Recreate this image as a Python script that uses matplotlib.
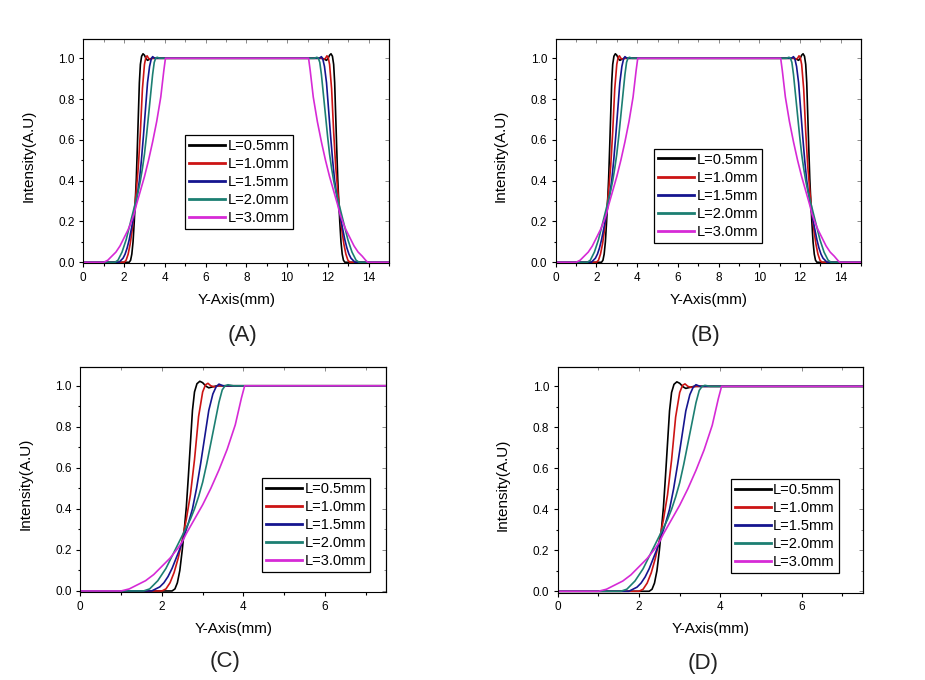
import numpy as np
import matplotlib
matplotlib.use("Agg")
import matplotlib.pyplot as plt
from matplotlib.ticker import MultipleLocator, FormatStrFormatter

plt.rcParams['font.family'] = ['Liberation Sans', 'DejaVu Sans']

# Beam profiles (intensity vs Y position) for each propagation length L
labels = ["L=0.5mm", "L=1.0mm", "L=1.5mm", "L=2.0mm", "L=3.0mm"]
colors = ["#000000", "#cc1414", "#15158f", "#1c7f72", "#d62ad6"]

# rising edge
rise_x_05 = [0, 2.25, 2.32, 2.38, 2.44, 2.5, 2.55, 2.6, 2.65, 2.7, 2.75, 2.8, 2.86, 2.93, 3.0, 3.08, 3.15, 3.25, 3.35]
rise_y_05 = [0, 0, 0.01, 0.04, 0.1, 0.2, 0.3, 0.41, 0.56, 0.72, 0.88, 0.97, 1.01, 1.022, 1.015, 0.998, 0.99, 0.995, 1.0]
rise_x_10 = [0, 2.0, 2.1, 2.2, 2.3, 2.4, 2.5, 2.6, 2.7, 2.8, 2.9, 3.0, 3.07, 3.13, 3.2, 3.28, 3.4]
rise_y_10 = [0, 0, 0.01, 0.04, 0.09, 0.16, 0.25, 0.35, 0.47, 0.64, 0.85, 0.97, 1.005, 1.012, 1.0, 0.995, 1.0]
rise_x_15 = [0, 1.75, 1.85, 1.95, 2.05, 2.15, 2.25, 2.35, 2.45, 2.55, 2.65, 2.75, 2.85, 2.95, 3.05, 3.15, 3.25, 3.33, 3.4, 3.5]
rise_y_15 = [0, 0, 0.01, 0.02, 0.04, 0.07, 0.11, 0.16, 0.21, 0.27, 0.33, 0.4, 0.5, 0.62, 0.75, 0.88, 0.96, 0.995, 1.008, 1.0]
rise_x_20 = [0, 1.55, 1.7, 1.8, 1.9, 2.0, 2.1, 2.2, 2.3, 2.4, 2.5, 2.6, 2.7, 2.8, 2.9, 3.0, 3.1, 3.2, 3.3, 3.4, 3.48, 3.55, 3.62, 3.75]
rise_y_20 = [0, 0, 0.01, 0.03, 0.05, 0.08, 0.11, 0.15, 0.19, 0.23, 0.27, 0.31, 0.35, 0.4, 0.46, 0.53, 0.62, 0.72, 0.82, 0.92, 0.98, 1.0, 1.005, 1.0]
rise_x_30 = [0, 1.0, 1.2, 1.4, 1.6, 1.8, 2.0, 2.2, 2.4, 2.5, 2.6, 2.8, 3.0, 3.2, 3.4, 3.6, 3.8, 3.95, 4.03, 4.2]
rise_y_30 = [0, 0, 0.01, 0.03, 0.05, 0.08, 0.12, 0.16, 0.21, 0.24, 0.28, 0.35, 0.42, 0.5, 0.59, 0.69, 0.81, 0.94, 1.0, 1.0]

# falling edge
fall_x_05 = [11.73, 11.83, 11.93, 12.0, 12.08, 12.15, 12.22, 12.28, 12.33, 12.38, 12.43, 12.48, 12.53, 12.58, 12.64, 12.7, 12.76, 12.83, 15.0]
fall_y_05 = [1.0, 0.995, 0.99, 0.998, 1.015, 1.022, 1.01, 0.97, 0.88, 0.72, 0.56, 0.41, 0.3, 0.2, 0.1, 0.04, 0.01, 0, 0]
fall_x_10 = [11.68, 11.8, 11.88, 11.95, 12.01, 12.08, 12.18, 12.28, 12.38, 12.48, 12.58, 12.68, 12.78, 12.88, 12.98, 13.08, 15.0]
fall_y_10 = [1.0, 0.995, 1.0, 1.012, 1.005, 0.97, 0.85, 0.64, 0.47, 0.35, 0.25, 0.16, 0.09, 0.04, 0.01, 0, 0]
fall_x_15 = [11.58, 11.68, 11.75, 11.83, 11.93, 12.03, 12.13, 12.23, 12.33, 12.43, 12.53, 12.63, 12.73, 12.83, 12.93, 13.03, 13.13, 13.23, 13.33, 15.0]
fall_y_15 = [1.0, 1.008, 0.995, 0.96, 0.88, 0.75, 0.62, 0.5, 0.4, 0.33, 0.27, 0.21, 0.16, 0.11, 0.07, 0.04, 0.02, 0.01, 0, 0]
fall_x_20 = [11.33, 11.46, 11.53, 11.6, 11.68, 11.78, 11.88, 11.98, 12.08, 12.18, 12.28, 12.38, 12.48, 12.58, 12.68, 12.78, 12.88, 12.98, 13.08, 13.18, 13.28, 13.38, 13.53, 15.0]
fall_y_20 = [1.0, 1.005, 1.0, 0.98, 0.92, 0.82, 0.72, 0.62, 0.53, 0.46, 0.4, 0.35, 0.31, 0.27, 0.23, 0.19, 0.15, 0.11, 0.08, 0.05, 0.03, 0.01, 0, 0]
fall_x_30 = [10.88, 11.05, 11.13, 11.28, 11.48, 11.68, 11.88, 12.08, 12.28, 12.48, 12.58, 12.68, 12.88, 13.08, 13.28, 13.48, 13.68, 13.85, 13.95, 15.0]
fall_y_30 = [1.0, 1.0, 0.94, 0.81, 0.69, 0.59, 0.5, 0.42, 0.35, 0.28, 0.24, 0.21, 0.16, 0.12, 0.08, 0.05, 0.03, 0.01, 0, 0]

profiles = [
    (rise_x_05 + fall_x_05, rise_y_05 + fall_y_05),
    (rise_x_10 + fall_x_10, rise_y_10 + fall_y_10),
    (rise_x_15 + fall_x_15, rise_y_15 + fall_y_15),
    (rise_x_20 + fall_x_20, rise_y_20 + fall_y_20),
    (rise_x_30 + fall_x_30, rise_y_30 + fall_y_30),
]

W, H = 925, 680
fig = plt.figure(figsize=(W / 100, H / 100), dpi=100)

# panel layout in pixels: left, top, right, bottom, x max, legend corner (axes fraction), panel label pos
panels = [
    ("(A)", (83.3, 39.3, 389.1, 263.5), 15, (0.333, 0.573), (243, 335)),
    ("(B)", (555.7, 39.3, 861.1, 263.5), 15, (0.322, 0.511), (706, 335)),
    ("(C)", (80.3, 366.7, 386.2, 592.2), 7.5, (0.594, 0.506), (225, 662)),
    ("(D)", (557.7, 367.3, 862.7, 592.5), 7.5, (0.568, 0.504), (703, 663)),
]

for name, (l, t, r, b), xmax, leg_pos, lab_pos in panels:
    ax = fig.add_axes([l / W, 1 - b / H, (r - l) / W, (b - t) / H])
    for (x, y), c, lab in zip(profiles, colors, labels):
        ax.plot(x, y, color=c, lw=1.2, label=lab)
    ax.set_xlim(0, xmax)
    ax.set_ylim(-0.006, 1.093)

    ax.xaxis.set_major_locator(MultipleLocator(2))
    ax.xaxis.set_minor_locator(MultipleLocator(1))
    ax.yaxis.set_major_locator(MultipleLocator(0.2))
    ax.yaxis.set_minor_locator(MultipleLocator(0.1))
    ax.yaxis.set_major_formatter(FormatStrFormatter('%.1f'))
    ax.tick_params(which='major', direction='out', length=3, width=0.8, labelsize=8.5, pad=3)
    ax.tick_params(which='minor', direction='out', length=1.8, width=0.8)
    for sp in ax.spines.values():
        sp.set_linewidth(0.8)

    # mirrored ticks on top and right, pointing inward
    top = ax.secondary_xaxis('top')
    top.xaxis.set_major_locator(MultipleLocator(2))
    top.xaxis.set_minor_locator(MultipleLocator(1))
    top.tick_params(which='both', direction='in', labeltop=False, width=0.6, color='#777777')
    top.tick_params(which='major', length=3)
    top.tick_params(which='minor', length=1.8)
    rgt = ax.secondary_yaxis('right')
    rgt.yaxis.set_major_locator(MultipleLocator(0.2))
    rgt.yaxis.set_minor_locator(MultipleLocator(0.1))
    rgt.tick_params(which='both', direction='in', labelright=False, width=0.6, color='#777777')
    rgt.tick_params(which='major', length=3)
    rgt.tick_params(which='minor', length=1.8)

    ax.set_xlabel("Y-Axis(mm)", fontsize=11)
    ax.xaxis.set_label_coords(0.5, -0.13)
    ax.set_ylabel("Intensity(A.U)", fontsize=11)
    ax.yaxis.set_label_coords(-0.157, 0.48)

    leg = ax.legend(loc='upper left', bbox_to_anchor=leg_pos, borderaxespad=0,
                    fontsize=10.5, frameon=True, fancybox=False, framealpha=1,
                    edgecolor='black', handlelength=2.5, handletextpad=0.15,
                    labelspacing=0.28, borderpad=0.25)
    leg.get_frame().set_linewidth(0.9)
    for line in leg.get_lines():
        line.set_linewidth(2)

    fig.text(lab_pos[0] / W, 1 - lab_pos[1] / H, name, fontsize=16,
             ha='center', va='center', color='#222222')

fig.savefig("out.png", dpi=100)
